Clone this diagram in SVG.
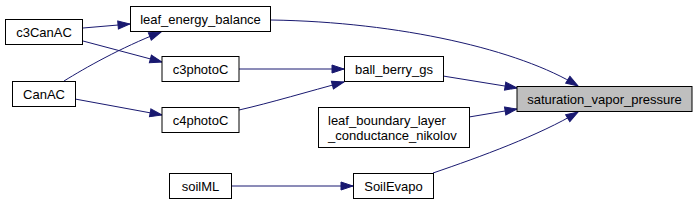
<svg xmlns="http://www.w3.org/2000/svg" width="697" height="205" viewBox="0 0 697 205">
<style>
.node rect{fill:#ffffff;stroke:#000000;stroke-width:1}
.node.hl rect{fill:#bfbfbf}
.node text{font-family:"Liberation Sans",Arial,sans-serif;font-size:13px;fill:#000000}
.c{text-anchor:middle}
.edge{fill:none;stroke:#191970;stroke-width:1;marker-end:url(#ah)}
</style>
<defs>
<marker id="ah" markerUnits="userSpaceOnUse" markerWidth="14" markerHeight="10" refX="12" refY="4" orient="auto" viewBox="-1 -1 14 10">
<path d="M0,0 L12,4 L0,8 z" fill="#191970" stroke="#191970" stroke-width="1"/>
</marker>
</defs>
<rect width="697" height="205" fill="#ffffff"/>
<g id="connectors">
<path class="edge" d="M83,28 L130,24"/>
<path class="edge" d="M83,41 L162,62"/>
<path class="edge" d="M64,81 C85,68 120,48 161,32"/>
<path class="edge" d="M75,99 L162,115"/>
<path class="edge" d="M239,69 L344,69"/>
<path class="edge" d="M239,110 C270,103 310,91 344,82"/>
<path class="edge" d="M231,186 L353,186"/>
<path class="edge" d="M271,20 C400,22 520,50 578,86"/>
<path class="edge" d="M443,76 L517,88"/>
<path class="edge" d="M469,117 L517,109"/>
<path class="edge" d="M433,173 C480,157 540,135 578,112"/>
</g>
<g id="leaf_energy_balance" class="node"><rect x="130.5" y="6.5" width="140" height="25"/><text class="c" x="200.5" y="23.5">leaf_energy_balance</text></g>
<g id="c3CanAC" class="node"><rect x="5.5" y="19.5" width="77" height="25"/><text class="c" x="44" y="36.5">c3CanAC</text></g>
<g id="c3photoC" class="node"><rect x="162" y="56.5" width="77" height="25"/><text class="c" x="200.5" y="73.5">c3photoC</text></g>
<g id="CanAC" class="node"><rect x="12.5" y="81.5" width="63" height="25"/><text class="c" x="44" y="98.5">CanAC</text></g>
<g id="c4photoC" class="node"><rect x="162" y="107.5" width="77" height="25"/><text class="c" x="200.5" y="124.5">c4photoC</text></g>
<g id="soilML" class="node"><rect x="169.5" y="173.5" width="62" height="25"/><text class="c" x="200.5" y="190.5">soilML</text></g>
<g id="ball_berry_gs" class="node"><rect x="344.5" y="56.5" width="99" height="25"/><text class="c" x="394" y="73.5">ball_berry_gs</text></g>
<g id="leaf_boundary_layer_conductance_nikolov" class="node"><rect x="318.5" y="107.5" width="151" height="40"/><text x="328" y="124.5">leaf_boundary_layer</text><text x="328" y="139.5">_conductance_nikolov</text></g>
<g id="SoilEvapo" class="node"><rect x="353.5" y="173.5" width="80" height="25"/><text class="c" x="393.5" y="190.5">SoilEvapo</text></g>
<g id="saturation_vapor_pressure" class="node hl"><rect x="517" y="86.5" width="175" height="25"/><text class="c" x="604.5" y="103.5">saturation_vapor_pressure</text></g>
</svg>
